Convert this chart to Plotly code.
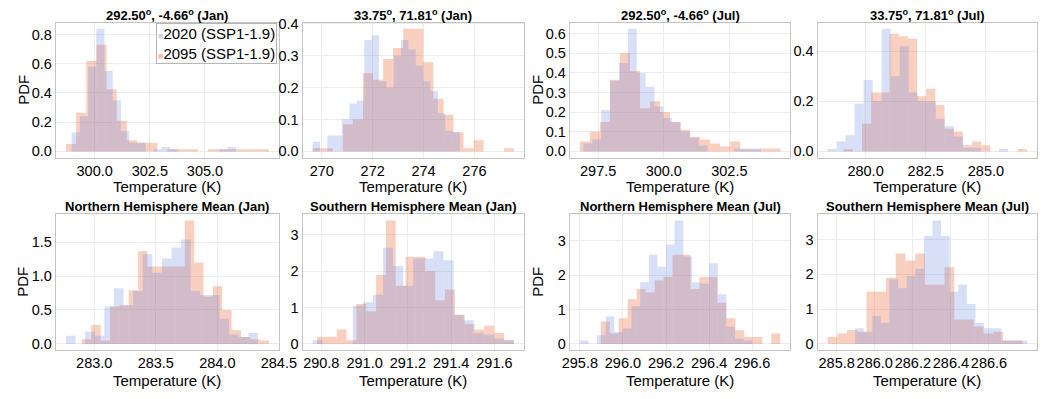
import numpy as np
import plotly.graph_objects as go

# ---------------- data (bin-edge span, PDF heights per bin) ----------------
TITLES = [
    "292.50<sup>o</sup>, -4.66<sup>o</sup> (Jan)",
    "33.75<sup>o</sup>, 71.81<sup>o</sup> (Jan)",
    "292.50<sup>o</sup>, -4.66<sup>o</sup> (Jul)",
    "33.75<sup>o</sup>, 71.81<sup>o</sup> (Jul)",
    "Northern Hemisphere Mean (Jan)",
    "Southern Hemisphere Mean (Jan)",
    "Northern Hemisphere Mean (Jul)",
    "Southern Hemisphere Mean (Jul)",
]
SERIES_NAMES = ["2020 (SSP1-1.9)", "2095 (SSP1-1.9)"]
X_TITLE = "Temperature (K)"
Y_TITLE = "PDF"

P1_2020_SPAN = (298.96, 306.40)
P1_2020_PDF = [0.13, 0.24, 0.58, 0.84, 0.55, 0.35, 0.14, 0.06, 0.06, 0.0,
               0.015, 0.03, 0.015, 0.0, 0.0, 0.0, 0.0, 0.0, 0.015, 0.03]
P1_2095_SPAN = (298.70, 307.90)
P1_2095_PDF = [0.05, 0.265, 0.62, 0.73, 0.425, 0.21, 0.077, 0.06, 0.06, 0.0,
               0.015, 0.015, 0.015, 0.0, 0.015, 0.015, 0.015, 0.015, 0.015, 0.015]

P2_2020_SPAN = (269.64, 275.43)
P2_2020_PDF = [0.03, 0.0, 0.05, 0.05, 0.1, 0.15, 0.16, 0.35, 0.365, 0.22,
               0.2, 0.3, 0.35, 0.32, 0.27, 0.22, 0.19, 0.12, 0.065, 0.06]
P2_2095_SPAN = (269.64, 277.55)
P2_2095_PDF = [0.01, 0.01, 0.0, 0.085, 0.1, 0.245, 0.225, 0.29, 0.325, 0.385,
               0.385, 0.28, 0.165, 0.115, 0.06, 0.01, 0.035, 0.0, 0.0, 0.01]

P3_2020_SPAN = (296.94, 303.70)
P3_2020_PDF = [0.04, 0.06, 0.21, 0.36, 0.45, 0.625, 0.4, 0.33, 0.23, 0.17,
               0.15, 0.1, 0.07, 0.03, 0.0, 0.0, 0.0, 0.015, 0.015, 0.015]
P3_2095_SPAN = (296.80, 304.44)
P3_2095_PDF = [0.05, 0.1, 0.15, 0.365, 0.5, 0.41, 0.22, 0.255, 0.2, 0.15,
               0.11, 0.075, 0.06, 0.04, 0.025, 0.05, 0.01, 0.01, 0.015, 0.015]

P4_2020_SPAN = (278.42, 285.92)
P4_2020_PDF = [0.01, 0.04, 0.065, 0.19, 0.285, 0.2, 0.49, 0.3, 0.42, 0.235,
               0.2, 0.2, 0.13, 0.1, 0.06, 0.015, 0.015, 0.0, 0.0, 0.01]
P4_2095_SPAN = (279.09, 286.71)
P4_2095_PDF = [0.01, 0.0, 0.11, 0.235, 0.235, 0.47, 0.46, 0.45, 0.22, 0.25,
               0.185, 0.09, 0.08, 0.025, 0.04, 0.025, 0.0, 0.0, 0.0, 0.01]

P5_2020_SPAN = (282.77, 284.33)
P5_2020_PDF = [0.12, 0.0, 0.18, 0.12, 0.55, 0.82, 0.57, 0.78, 1.32, 1.05,
               1.26, 1.42, 1.54, 0.78, 0.72, 0.72, 0.37, 0.14, 0.1, 0.16]
P5_2095_SPAN = (282.90, 284.42)
P5_2095_PDF = [0.07, 0.28, 0.05, 0.55, 0.57, 0.79, 1.37, 1.14, 1.14, 1.14,
               1.14, 1.82, 1.2, 0.7, 0.85, 0.5, 0.2, 0.1, 0.07, 0.05]

P6_2020_SPAN = (290.76, 291.69)
P6_2020_PDF = [0.1, 0.0, 0.0, 0.0, 1.05, 1.15, 1.35, 2.65, 2.15, 1.6,
               2.35, 2.35, 2.55, 2.3, 0.8, 0.65, 0.3, 0.25, 0.15, 0.1]
P6_2095_SPAN = (290.78, 291.69)
P6_2095_PDF = [0.2, 0.2, 0.4, 0.1, 1.1, 0.9, 1.9, 3.4, 1.6, 2.4,
               2.4, 2.0, 1.2, 1.5, 0.8, 0.55, 0.4, 0.5, 0.3, 0.1]

P7_2020_SPAN = (295.80, 296.60)
P7_2020_PDF = [0.1, 0.0, 0.25, 0.8, 0.35, 0.45, 1.1, 1.8, 2.6, 2.25,
               2.9, 3.6, 2.55, 1.8, 1.75, 2.35, 1.45, 0.5, 0.15, 0.1]
P7_2095_SPAN = (295.897, 296.73)
P7_2095_PDF = [0.65, 0.3, 0.75, 1.3, 1.6, 1.5, 1.85, 1.95, 2.6, 2.6,
               1.6, 1.95, 1.95, 1.2, 0.75, 0.4, 0.2, 0.2, 0.0, 0.3]

P8_2020_SPAN = (285.897, 286.80)
P8_2020_PDF = [0.45, 0.35, 0.8, 0.6, 1.85, 1.6, 1.95, 2.15, 3.1, 3.55,
               3.1, 1.5, 1.7, 1.15, 0.6, 0.45, 0.45, 0.1, 0.1, 0.1]
P8_2095_SPAN = (285.752, 286.776)
P8_2095_PDF = [0.2, 0.3, 0.4, 0.35, 1.5, 1.5, 1.9, 2.6, 2.4, 2.6,
               1.7, 1.7, 2.2, 0.7, 0.7, 0.5, 0.3, 0.35, 0.1, 0.1]

X_TICKS = [
    [300.0, 302.5, 305.0],
    [270, 272, 274, 276],
    [297.5, 300.0, 302.5],
    [280.0, 282.5, 285.0],
    [283.0, 283.5, 284.0, 284.5],
    [290.8, 291.0, 291.2, 291.4, 291.6],
    [295.8, 296.0, 296.2, 296.4, 296.6],
    [285.8, 286.0, 286.2, 286.4, 286.6],
]
X_FMT = [".1f", "d", ".1f", ".1f", ".1f", ".1f", ".1f", ".1f"]
Y_TICKS = [
    [0.0, 0.2, 0.4, 0.6, 0.8],
    [0.0, 0.1, 0.2, 0.3, 0.4],
    [0.0, 0.1, 0.2, 0.3, 0.4, 0.5, 0.6],
    [0.0, 0.2, 0.4],
    [0.0, 0.5, 1.0, 1.5],
    [0, 1, 2, 3],
    [0, 1, 2, 3],
    [0, 1, 2, 3],
]
Y_FMT = [".1f", ".1f", ".1f", ".1f", ".1f", "d", "d", "d"]

PANELS = [
    ((P1_2020_SPAN, P1_2020_PDF), (P1_2095_SPAN, P1_2095_PDF)),
    ((P2_2020_SPAN, P2_2020_PDF), (P2_2095_SPAN, P2_2095_PDF)),
    ((P3_2020_SPAN, P3_2020_PDF), (P3_2095_SPAN, P3_2095_PDF)),
    ((P4_2020_SPAN, P4_2020_PDF), (P4_2095_SPAN, P4_2095_PDF)),
    ((P5_2020_SPAN, P5_2020_PDF), (P5_2095_SPAN, P5_2095_PDF)),
    ((P6_2020_SPAN, P6_2020_PDF), (P6_2095_SPAN, P6_2095_PDF)),
    ((P7_2020_SPAN, P7_2020_PDF), (P7_2095_SPAN, P7_2095_PDF)),
    ((P8_2020_SPAN, P8_2020_PDF), (P8_2095_SPAN, P8_2095_PDF)),
]

# ---------------- styling ----------------
W, H = 1056, 399
COL_PX = [(49, 278), (302, 529), (576, 802), (830, 1055)]
ROW_PX = [(16, 154), (212, 351)]
XTITLE_Y = [184, 382]
YTITLE_X = {0: 15, 2: 542}
COLORS = ["rgba(99,131,227,0.25)", "rgba(238,109,64,0.33)"]
SWATCH = ["rgba(99,131,227,0.35)", "rgba(238,109,64,0.45)"]
DRAW_ORDER = [1, 0]  # 2095 first, 2020 on top
FONT = "Liberation Sans, Arial, Helvetica, sans-serif"
LINE_C = "#c4c4c4"
GRID_C = "#ececec"

fig = go.Figure()
layout = dict(
    width=W, height=H, margin=dict(l=0, r=0, t=0, b=0, pad=0), autosize=False,
    paper_bgcolor="white", plot_bgcolor="white", barmode="overlay",
    showlegend=False, font=dict(family=FONT, size=15, color="black"),
)
annotations = []


def px_x(v):
    return v / W


def px_y(v):
    return 1 - v / H


for i, series in enumerate(PANELS):
    n = i + 1
    r, c = divmod(i, 4)
    xs = "x" if n == 1 else f"x{n}"
    ys = "y" if n == 1 else f"y{n}"
    lo_all, hi_all, ymax = [], [], 0
    for k in DRAW_ORDER:
        span, pdf = series[k]
        edges = np.linspace(span[0], span[1], len(pdf) + 1)
        centers = (edges[:-1] + edges[1:]) / 2
        fig.add_trace(go.Bar(
            x=centers, y=pdf, width=edges[1] - edges[0], xaxis=xs, yaxis=ys,
            marker=dict(color=COLORS[k], line=dict(width=0)),
            name=SERIES_NAMES[k], showlegend=False,
        ))
        lo_all.append(span[0]); hi_all.append(span[1]); ymax = max(ymax, max(pdf))
    lo, hi = min(lo_all), max(hi_all)
    pad = 0.05 * (hi - lo)
    x0, x1 = COL_PX[c]
    y0, y1 = ROW_PX[r]
    common = dict(showline=True, mirror=True, linecolor=LINE_C, linewidth=1,
                  gridcolor=GRID_C, gridwidth=1, zeroline=False, ticks="",
                  tickfont=dict(size=14.5, color="black"), tickangle=0)
    layout["xaxis" if n == 1 else f"xaxis{n}"] = dict(
        domain=[px_x(x0), px_x(x1)], anchor=ys, range=[lo - pad, hi + pad],
        tickmode="array", tickvals=X_TICKS[i], tickformat=X_FMT[i], **common)
    layout["yaxis" if n == 1 else f"yaxis{n}"] = dict(
        domain=[px_y(y1), px_y(y0)], anchor=xs, range=[-0.05 * ymax, 1.05 * ymax],
        tickmode="array", tickvals=Y_TICKS[i], tickformat=Y_FMT[i], **common)
    # panel title
    annotations.append(dict(
        text=f"<b>{TITLES[i]}</b>", xref="paper", yref="paper",
        x=px_x((x0 + x1) / 2), y=px_y(y0 - 8), xanchor="center", yanchor="middle",
        showarrow=False, font=dict(size=13, family=FONT, color="black"),
    ))
    # axis titles
    annotations.append(dict(
        text=X_TITLE, xref="paper", yref="paper",
        x=px_x((x0 + x1) / 2), y=px_y(XTITLE_Y[r]), xanchor="center", yanchor="middle",
        showarrow=False, font=dict(size=15, family=FONT, color="black"),
    ))
    if c in YTITLE_X:
        annotations.append(dict(
            text=Y_TITLE, xref="paper", yref="paper", textangle=-90,
            x=px_x(YTITLE_X[c]), y=px_y((y0 + y1) / 2), xanchor="center", yanchor="middle",
            showarrow=False, font=dict(size=15, family=FONT, color="black"),
        ))

# legend box (inside first panel, top-right)
legend_text = "<br>".join(
    f'<span style="color:{SWATCH[k]};font-size:9px">■</span>{SERIES_NAMES[k]}'
    for k in range(2)
)
annotations.append(dict(
    text=legend_text, xref="paper", yref="paper", x=px_x(276), y=px_y(16),
    xanchor="right", yanchor="top", align="left", showarrow=False,
    bordercolor="#b5b5b5", borderwidth=1, borderpad=1, bgcolor="rgba(255,255,255,0.85)",
    font=dict(size=15, family=FONT, color="black"),
))
layout["annotations"] = annotations
fig.update_layout(**layout)
fig.write_html("out.html", config={"displayModeBar": False},
               post_script="document.body.style.margin='0';")
